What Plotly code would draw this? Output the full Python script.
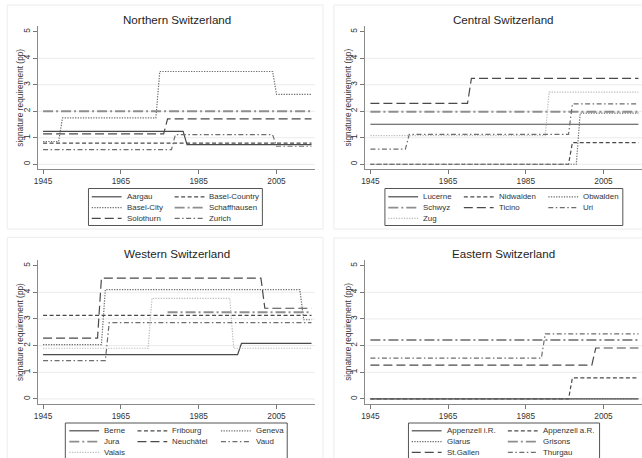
import plotly.graph_objects as go

# ---------------- data ----------------
X_TICKS = [1945, 1965, 1985, 2005]
Y_TICKS = [0, 1, 2, 3, 4, 5]
GRID_Y = [0, 1, 2, 3, 4]
PANEL_TITLES = ["Northern Switzerland", "Central Switzerland",
                "Western Switzerland", "Eastern Switzerland"]
Y_TITLE = "signature requirement (pp)"

NORTH_CANTONS = ["Aargau", "Basel-Country", "Basel-City", "Schaffhausen", "Solothurn", "Zurich"]
NORTH_YEARS = [
    [1945, 1981, 1982, 2014],
    [1945, 2014],
    [1945, 1949, 1950, 1974, 1975, 2004, 2005, 2014],
    [1945, 2014],
    [1945, 1976, 1977, 2014],
    [1945, 1978, 1979, 2004, 2005, 2014],
]
NORTH_VALUES = [
    [1.24, 1.24, 0.74, 0.74],
    [0.80, 0.80],
    [0.86, 0.86, 1.75, 1.75, 3.50, 3.50, 2.64, 2.64],
    [2.00, 2.00],
    [1.15, 1.15, 1.71, 1.71],
    [0.55, 0.55, 1.12, 1.12, 0.68, 0.68],
]

CENTRAL_CANTONS = ["Lucerne", "Nidwalden", "Obwalden", "Schwyz", "Ticino", "Uri", "Zug"]
CENTRAL_YEARS = [
    [1945, 2014],
    [1945, 1996, 1997, 2014],
    [1945, 1998, 1999, 2014],
    [1945, 2014],
    [1945, 1970, 1971, 2014],
    [1945, 1954, 1955, 1996, 1997, 2014],
    [1945, 1990, 1991, 2014],
]
CENTRAL_VALUES = [
    [1.51, 1.51],
    [0.00, 0.00, 0.82, 0.82],
    [0.00, 0.00, 1.93, 1.93],
    [1.98, 1.98],
    [2.30, 2.30, 3.24, 3.24],
    [0.57, 0.57, 1.13, 1.13, 2.28, 2.28],
    [1.08, 1.08, 2.72, 2.72],
]

WEST_CANTONS = ["Berne", "Fribourg", "Geneva", "Jura", "Neuchâtel", "Vaud", "Valais"]
WEST_YEARS = [
    [1945, 1995, 1996, 2014],
    [1945, 2014],
    [1945, 1960, 1961, 2011, 2012, 2014],
    [1977, 2014],
    [1945, 1959, 1960, 2001, 2002, 2014],
    [1945, 1961, 1962, 2014],
    [1945, 1972, 1973, 1993, 1994, 2014],
]
WEST_VALUES = [
    [1.66, 1.66, 2.08, 2.08],
    [3.13, 3.13],
    [2.04, 2.04, 4.10, 4.10, 2.97, 2.97],
    [3.25, 3.25],
    [2.28, 2.28, 4.53, 4.53, 3.40, 3.40],
    [1.44, 1.44, 2.86, 2.86],
    [1.90, 1.90, 3.77, 3.77, 1.90, 1.90],
]

EAST_CANTONS = ["Appenzell i.R.", "Appenzell a.R.", "Glarus", "Grisons", "St.Gallen", "Thurgau"]
EAST_YEARS = [
    [1945, 2014],
    [1945, 1996, 1997, 2014],
    [1945, 2014],
    [1945, 2014],
    [1945, 2002, 2003, 2014],
    [1945, 1989, 1990, 2014],
]
EAST_VALUES = [
    [0.00, 0.00],
    [0.00, 0.00, 0.79, 0.79],
    [0.00, 0.00],
    [2.21, 2.21],
    [1.27, 1.27, 1.91, 1.91],
    [1.53, 1.53, 2.44, 2.44],
]

# ---------------- styling ----------------
W, H = 642, 458
FONT = "Liberation Sans, Arial, sans-serif"
STYLES = [
    dict(color="#4a4a4a", width=1.2, dash="solid"),
    dict(color="#4a4a4a", width=1.2, dash="4px,2.5px"),
    dict(color="#6e6e6e", width=1.2, dash="1.3px,1.3px"),
    dict(color="#8e8e8e", width=1.9, dash="10px,3px,2px,3px"),
    dict(color="#4a4a4a", width=1.2, dash="9px,4px"),
    dict(color="#6e6e6e", width=1.2, dash="5px,2.5px,1.5px,2.5px"),
    dict(color="#bdbdbd", width=1.2, dash="1.3px,1.3px"),
]

def px(x):
    return x / W

def py(y):
    return 1 - y / H

X_RANGE = [1943.72, 2014.91]
Y_RANGE = [-0.19, 5.21]

# plot areas in pixels: (left, right, top, bottom)
AREAS = [
    (34.3, 313.0, 26.2, 169.3),
    (363.7, 642.0, 26.2, 169.3),
    (34.3, 313.0, 260.0, 404.0),
    (363.7, 642.0, 260.0, 404.0),
]
FRAMES = [(3.3, 321.0, 5.0, 229.0), (332.0, 645.0, 5.0, 229.0),
          (3.3, 321.0, 237.3, 462.0), (332.0, 645.0, 238.0, 462.0)]
YTITLE_X = [16, 346, 16, 346]
TITLE_Y = [19, 19, 253, 253]

# legends: box (l, r, t, b), symbol column starts, row centers
LEGENDS = [
    dict(box=(85.0, 260.0, 188.5, 225.5), cols=[88.3, 171.7], rows=[196.8, 207.6, 218.4]),
    dict(box=(383.3, 622.7, 188.5, 225.5), cols=[386.7, 462.7, 547.7], rows=[196.8, 207.6, 218.4]),
    dict(box=(61.7, 285.0, 423.0, 462.0), cols=[65.7, 134.3, 218.3], rows=[430.8, 441.6, 452.4]),
    dict(box=(407.0, 599.3, 423.0, 462.0), cols=[410.3, 507.0], rows=[430.8, 441.6, 452.4]),
]

PANELS = [
    (NORTH_CANTONS, NORTH_YEARS, NORTH_VALUES),
    (CENTRAL_CANTONS, CENTRAL_YEARS, CENTRAL_VALUES),
    (WEST_CANTONS, WEST_YEARS, WEST_VALUES),
    (EAST_CANTONS, EAST_YEARS, EAST_VALUES),
]

fig = go.Figure()
shapes = []
annotations = []
layout = dict(
    width=W, height=H, autosize=False,
    margin=dict(l=0, r=0, t=0, b=0, pad=0),
    paper_bgcolor="white", plot_bgcolor="white",
    font=dict(family=FONT, size=8.3, color="#333333"),
    showlegend=False,
)

for p, (names, years, values) in enumerate(PANELS):
    l, r, t, b = AREAS[p]
    suffix = "" if p == 0 else str(p + 1)
    xa, ya = "x" + suffix, "y" + suffix
    layout["xaxis" + suffix] = dict(
        domain=[px(l), min(px(r), 1.0)], range=X_RANGE, anchor=ya,
        tickvals=X_TICKS, ticks="outside", ticklen=4, tickcolor="#777777",
        showline=True, linecolor="#8a8a8a", linewidth=1, showgrid=False, zeroline=False,
        tickfont=dict(size=8.3, color="#333333"), fixedrange=True,
    )
    layout["yaxis" + suffix] = dict(
        domain=[py(b), py(t)], range=Y_RANGE, anchor=xa,
        tickvals=Y_TICKS, ticks="outside", ticklen=4, tickcolor="#777777", tickangle=-90,
        showline=True, linecolor="#8a8a8a", linewidth=1, showgrid=False, zeroline=False,
        tickfont=dict(size=8.3, color="#333333"), fixedrange=True,
    )
    for gy in GRID_Y:
        shapes.append(dict(type="line", xref=xa + " domain", yref=ya, x0=0, x1=1, y0=gy, y1=gy,
                           line=dict(color="#ebebeb", width=1), layer="below"))
    fl, fr, ft, fb = FRAMES[p]
    shapes.append(dict(type="rect", xref="paper", yref="paper", x0=px(fl), x1=px(fr), y0=py(fb), y1=py(ft),
                       line=dict(color="#ececec", width=1), layer="below"))
    for i, name in enumerate(names):
        st = STYLES[i]
        fig.add_trace(go.Scatter(x=years[i], y=values[i], mode="lines", name=name,
                                 xaxis=xa, yaxis=ya, hoverinfo="skip",
                                 line=dict(color=st["color"], width=st["width"], dash=st["dash"])))
    # title
    annotations.append(dict(text=PANEL_TITLES[p], xref="paper", yref="paper", x=px((l + r) / 2),
                            y=py(TITLE_Y[p]), xanchor="center", yanchor="middle", showarrow=False,
                            font=dict(size=11.6, color="#1e1e1e", family=FONT)))
    annotations.append(dict(text=Y_TITLE, xref="paper", yref="paper", x=px(YTITLE_X[p]),
                            y=py((t + b) / 2), xanchor="center", yanchor="middle", showarrow=False,
                            textangle=-90, font=dict(size=8.3, color="#333333", family=FONT)))
    # legend (manual, compact like the original)
    lg = LEGENDS[p]
    bl, br, bt, bb = lg["box"]
    shapes.append(dict(type="rect", xref="paper", yref="paper", x0=px(bl), x1=px(br), y0=py(bb), y1=py(bt),
                       line=dict(color="#555555", width=1), fillcolor="white", layer="above"))
    ncol = len(lg["cols"])
    for i, name in enumerate(names):
        c, rrow = i % ncol, i // ncol
        sx, sy = lg["cols"][c], lg["rows"][rrow]
        st = STYLES[i]
        shapes.append(dict(type="line", xref="paper", yref="paper", x0=px(sx), x1=px(sx + 30),
                           y0=py(sy), y1=py(sy), layer="above",
                           line=dict(color=st["color"], width=st["width"], dash=st["dash"])))
        annotations.append(dict(text=name, xref="paper", yref="paper", x=px(sx + 33), y=py(sy),
                                xanchor="left", yanchor="middle", showarrow=False,
                                font=dict(size=7.9, color="#333333", family=FONT)))

layout["shapes"] = shapes
layout["annotations"] = annotations
fig.update_layout(**layout)
fig.write_html("out.html", config={"displayModeBar": False},
               post_script="document.body.style.margin='0px';document.body.style.overflow='hidden';")
